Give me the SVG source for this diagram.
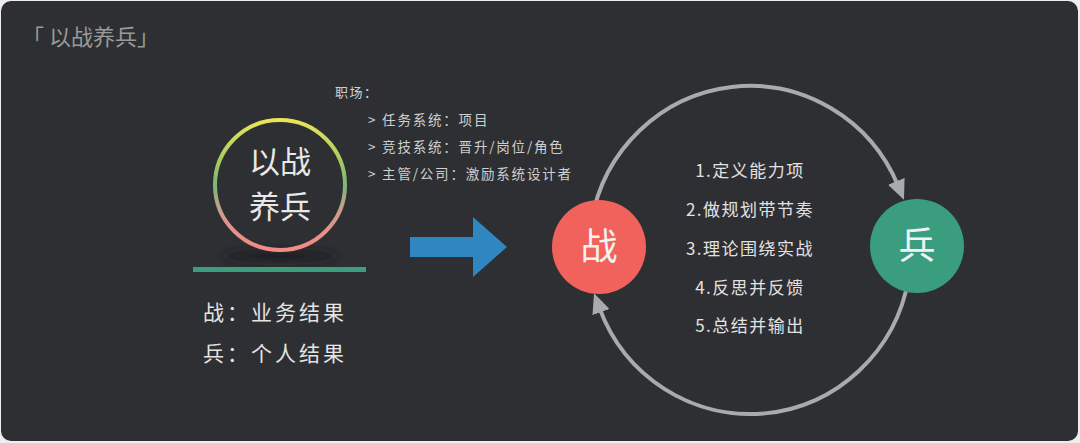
<svg xmlns="http://www.w3.org/2000/svg" width="1080" height="443" viewBox="0 0 1080 443">
  <style>
    .cjk { font-family: "Noto Sans CJK SC", "Noto Sans", sans-serif; }
    .title { font-size: 22px; fill: #9a9a9a; }
    .ring-text { font-size: 31px; fill: #e8e8e8; text-anchor: middle; }
    .bottom-text { font-size: 21px; fill: #e4e4e4; letter-spacing: 3px; }
    .list-head { font-size: 13px; fill: #cfcfcf; letter-spacing: 1.5px; }
    .list { font-size: 13.5px; fill: #cfcfcf; letter-spacing: 1.8px; }
    .steps { font-size: 17px; fill: #e2e2e2; text-anchor: middle; letter-spacing: 1.5px; }
    .node-text { font-size: 37px; fill: #f2f2f2; text-anchor: middle; }
    .loop { fill: none; stroke: #a9aaab; stroke-width: 4; marker-end: url(#arrow); }
  </style>
  <defs>
    <linearGradient id="ringGrad" x1="0" y1="0" x2="0" y2="1">
      <stop offset="0" stop-color="#eae45a"/>
      <stop offset="0.3" stop-color="#a8cc5e"/>
      <stop offset="0.5" stop-color="#7fb47a"/>
      <stop offset="0.72" stop-color="#d29a8a"/>
      <stop offset="1" stop-color="#f58a86"/>
    </linearGradient>
    <filter id="blur" x="-50%" y="-200%" width="200%" height="500%">
      <feGaussianBlur stdDeviation="4"/>
    </filter>
    <marker id="arrow" markerUnits="userSpaceOnUse" markerWidth="20" markerHeight="18" viewBox="0 0 20 18" refX="5" refY="9" orient="auto">
      <path d="M0,0 L20,9 L0,18 z" fill="#a9aaab"/>
    </marker>
  </defs>

  <rect x="0" y="0" width="1080" height="443" fill="#eeeeee"/>
  <rect x="1" y="1" width="1077" height="440" rx="10" fill="#2e2f33"/>

  <text class="cjk title" x="22" y="45">「 以战养兵」</text>

  <g id="ring-node">
    <ellipse cx="280" cy="256" rx="56" ry="5" fill="#1c1d20" filter="url(#blur)"/>
    <circle cx="280" cy="185" r="65" fill="none" stroke="url(#ringGrad)" stroke-width="4"/>
    <text class="cjk ring-text" x="280" y="173">以战</text>
    <text class="cjk ring-text" x="280" y="218">养兵</text>
  </g>

  <g id="underline">
    <rect x="193" y="267" width="173" height="5" fill="#3c9e7c"/>
  </g>

  <g id="definitions">
    <text class="cjk bottom-text" x="203" y="320">战：业务结果</text>
    <text class="cjk bottom-text" x="203" y="361">兵：个人结果</text>
  </g>

  <g id="workplace-list">
    <text class="cjk list-head" x="335" y="97">职场：</text>
    <text class="cjk list" x="368" y="125">&gt; 任务系统：项目</text>
    <text class="cjk list" x="368" y="152">&gt; 竞技系统：晋升/岗位/角色</text>
    <text class="cjk list" x="368" y="179">&gt; 主管/公司：激励系统设计者</text>
  </g>

  <g id="blue-arrow">
    <polygon points="410,237 473,237 473,217 507,247 473,277 473,257 410,257" fill="#2f86c0"/>
  </g>

  <g id="connectors">
    <path class="loop" d="M591.4,221.5 A161 164 0 0 1 898.2,185.9"/>
    <path class="loop" d="M908.6,278.5 A161 164 0 0 1 599.2,307.4"/>
  </g>

  <g id="steps">
    <text class="cjk steps" x="750" y="177">1.定义能力项</text>
    <text class="cjk steps" x="750" y="216">2.做规划带节奏</text>
    <text class="cjk steps" x="750" y="255">3.理论围绕实战</text>
    <text class="cjk steps" x="750" y="294">4.反思并反馈</text>
    <text class="cjk steps" x="750" y="332">5.总结并输出</text>
  </g>

  <g id="node-zhan">
    <circle cx="599" cy="247" r="47" fill="#f2625c"/>
    <text class="cjk node-text" x="599" y="260">战</text>
  </g>

  <g id="node-bing">
    <circle cx="917" cy="246" r="47" fill="#3a9e7e"/>
    <text class="cjk node-text" x="917" y="259">兵</text>
  </g>
</svg>
